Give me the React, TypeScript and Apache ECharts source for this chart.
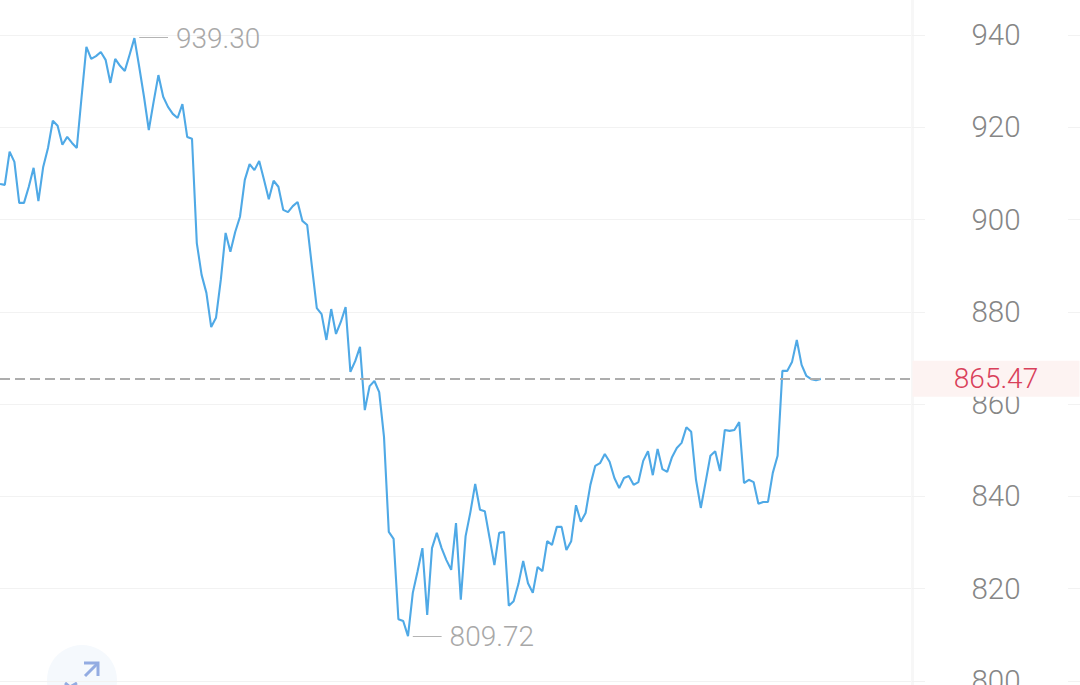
import React, { useEffect, useRef } from "react";
import * as echarts from "echarts";

const prices = [
  907.7, 907.5, 914.7, 912.5, 903.6, 903.6, 907.1, 911.2, 904.0, 911.4, 915.5, 921.4, 920.3, 916.2, 917.9, 916.6, 915.5,
  926.6, 937.4, 934.8, 935.4, 936.3, 934.6, 929.6, 934.8, 933.3, 932.2, 935.7, 939.3, 933.1, 926.6, 919.4, 925.5, 931.3,
  926.6, 924.4, 922.9, 922.0, 925.0, 917.9, 917.5, 894.9, 888.0, 884.1, 876.7, 878.7, 886.9, 897.1, 893.0, 897.3, 900.6,
  908.6, 912.0, 910.7, 912.7, 908.6, 904.4, 908.4, 907.1, 902.1, 901.6, 902.9, 903.8, 899.7, 898.8, 889.7, 880.8, 879.5,
  873.9, 880.6, 875.2, 877.8, 881.0, 867.0, 869.3, 872.4, 858.7, 863.9, 865.0, 862.6, 852.9, 832.3, 830.8, 813.4, 813.0,
  809.72, 819.1, 823.8, 828.8, 814.3, 828.8, 832.1, 828.8, 826.2, 824.1, 834.2, 817.6, 831.4, 836.6, 842.7, 837.1, 836.8,
  831.0, 825.1, 832.1, 832.3, 816.3, 817.3, 821.0, 826.0, 821.2, 819.1, 824.7, 823.8, 830.3, 829.5, 833.4, 833.4, 828.4,
  830.3, 838.1, 834.5, 836.4, 842.5, 846.6, 847.2, 849.2, 847.5, 844.0, 841.8, 844.0, 844.4, 842.5, 843.1, 847.7, 849.8,
  844.6, 850.3, 845.9, 845.3, 848.5, 850.5, 851.6, 855.0, 854.0, 843.6, 837.5, 843.1, 848.8, 849.8, 845.5, 854.4, 854.2,
  854.4, 856.1, 842.9, 843.6, 843.1, 838.4, 838.8, 838.8, 845.1, 848.8, 867.2, 867.2, 869.1, 873.9, 868.5, 866.1, 865.4,
  865.2, 865.47,
];
const slotCount = 191;
const slots = Array.from({ length: slotCount }, (_, i) => String(i));
const lastPrice = 865.47;
const highPrice = 939.3;
const lowPrice = 809.72;

const yMin = 780;
const yMax = 951.9;

export default function App() {
  const ref = useRef<HTMLDivElement>(null);
  useEffect(() => {
    document.body.style.margin = "0";
    document.body.style.overflow = "hidden";
    const chart = echarts.init(ref.current!, null, { renderer: "svg" });
    const highIdx = prices.indexOf(highPrice);
    const lowIdx = prices.indexOf(lowPrice);
    const leader = { lineStyle: { color: "#b4b4b4", width: 1, type: "solid" as const }, label: { show: false } };
    const sideLabel = {
      show: true,
      position: "right",
      distance: 8,
      color: "#a8a8a8",
      fontSize: 28,
      fontWeight: 300,
      fontFamily: "Roboto",
      padding: [2, 0, 0, 0],
    };
    chart.setOption({
      animation: false,
      backgroundColor: "#ffffff",
      grid: { left: 0, top: -20, width: 912, height: 793.3, outerBoundsMode: "none" },
      xAxis: {
        type: "category",
        data: slots,
        boundaryGap: false,
        axisLine: { show: false },
        axisTick: { show: false },
        axisLabel: { show: false },
        splitLine: { show: false },
      },
      yAxis: [
        {
          type: "value",
          position: "right",
          min: yMin,
          max: yMax,
          interval: 20,
          axisLine: { show: true, lineStyle: { color: "#f7f7f7", width: 3 } },
          axisTick: { show: true, length: 13, lineStyle: { color: "#f2f2f2", width: 1 } },
          axisLabel: {
            show: true,
            margin: 84,
            align: "center",
            color: "#868686",
            fontSize: 29.5,
            fontWeight: 300,
            fontFamily: "Roboto",
            padding: [4, 0, 0, 0],
            showMaxLabel: false,
            showMinLabel: false,
          },
          splitLine: { show: true, lineStyle: { color: "#f2f2f2", width: 1 } },
        },
        {
          type: "value",
          position: "right",
          offset: 168,
          min: yMin,
          max: yMax,
          interval: 20,
          axisLine: { show: false },
          axisTick: { show: true, inside: true, length: 12, lineStyle: { color: "#f2f2f2", width: 1 } },
          axisLabel: { show: false },
          splitLine: { show: false },
        },
      ],
      graphic: [
        {
          type: "group",
          silent: true,
          z: -1,
          children: [
            { type: "circle", shape: { cx: 82, cy: 680, r: 35 }, style: { fill: "#f5f9fd" } },
            { type: "polyline", shape: { points: [[85, 676], [97, 664]] }, style: { stroke: "#93ace2", lineWidth: 3, fill: "none" } },
            { type: "polyline", shape: { points: [[84, 663], [98, 663], [98, 676]] }, style: { stroke: "#93ace2", lineWidth: 3, fill: "none" } },
            { type: "polyline", shape: { points: [[65, 683], [70, 687], [77, 683]] }, style: { stroke: "#93ace2", lineWidth: 3, fill: "none" } },
          ],
        },
      ],
      series: [
        {
          type: "line",
          data: prices,
          yAxisIndex: 0,
          showSymbol: false,
          symbol: "none",
          smooth: false,
          silent: true,
          lineStyle: { color: "#4fa9e6", width: 2.1 },
          markLine: {
            silent: true,
            animation: false,
            symbol: "none",
            data: [
              {
                yAxis: lastPrice,
                lineStyle: { color: "#adadad", width: 2, type: [10, 5] },
                label: {
                  show: true,
                  position: "end",
                  distance: 84,
                  formatter: lastPrice.toFixed(2),
                  width: 167,
                  height: 36,
                  lineHeight: 40,
                  align: "center",
                  backgroundColor: "#fdf3f2",
                  color: "#d9405a",
                  fontSize: 28,
                  fontWeight: 300,
                  fontFamily: "Roboto",
                },
              },
              [
                { coord: [highIdx + 1, highPrice + 0.2], ...leader },
                { coord: [highIdx + 7.4, highPrice + 0.2] },
              ],
              [
                { coord: [lowIdx + 1, lowPrice], ...leader },
                { coord: [lowIdx + 7.2, lowPrice] },
              ],
            ],
          },
          markPoint: {
            silent: true,
            animation: false,
            symbol: "circle",
            symbolSize: 0,
            data: [
              { coord: [highIdx + 7.4, highPrice], value: highPrice, label: { ...sideLabel, formatter: highPrice.toFixed(2) } },
              { coord: [lowIdx + 7.2, lowPrice], value: lowPrice, label: { ...sideLabel, formatter: lowPrice.toFixed(2) } },
            ],
          },
        },
      ],
    });
    return () => chart.dispose();
  }, []);
  return <div ref={ref} style={{ width: 1080, height: 685 }} />;
}
